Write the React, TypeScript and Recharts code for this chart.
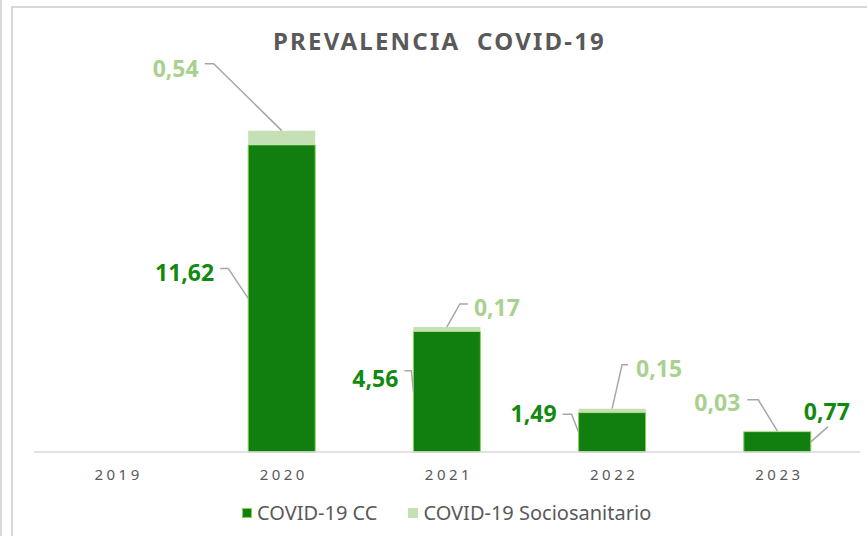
import React from 'react';
import { BarChart, Bar, XAxis, YAxis, LabelList } from 'recharts';

const years = ['2019', '2020', '2021', '2022', '2023'];
const ccValues = [null, 11.62, 4.56, 1.49, 0.77];
const socioValues = [null, 0.54, 0.17, 0.15, 0.03];

const chartData = years.map((year, i) => ({
  year,
  cc: ccValues[i],
  socio: socioValues[i],
}));

const DARK = '#107f10';
const DARK_TEXT = '#128a12';
const LIGHT = '#c5e0b4';
const LIGHT_TEXT = '#a9d18e';
const LEADER = '#a6a6a6';
const GREY_TEXT = '#595959';
const FONT = '"Noto Sans", "Open Sans", sans-serif';

// leader line layout per bar: anchor on the bar, elbow, line end, text anchor
type Callout = { side: 'left' | 'right' | 'top'; elbow: [number, number]; end: [number, number]; text: [number, number]; align: 'start' | 'end' };

const ccCallouts: (Callout | null)[] = [
  null,
  { side: 'left', elbow: [-20, -30], end: [-28, -30], text: [-34, -26], align: 'end' },
  { side: 'left', elbow: [-2, -21], end: [-9, -21], text: [-15, -14], align: 'end' },
  { side: 'left', elbow: [-7, -18], end: [-16, -18], text: [-22, -19], align: 'end' },
  { side: 'right', elbow: [17, -15], end: [17, -15], text: [-7, -31], align: 'start' },
];

const socioCallouts: (Callout | null)[] = [
  null,
  { side: 'top', elbow: [-68, -67], end: [-77, -67], text: [-83, -63], align: 'end' },
  { side: 'top', elbow: [13, -23], end: [21, -23], text: [27, -20], align: 'start' },
  { side: 'top', elbow: [10, -44], end: [16, -44], text: [24, -41], align: 'start' },
  { side: 'top', elbow: [-19, -31], end: [-30, -31], text: [-37, -29], align: 'end' },
];

const fmt = (v: number) => v.toFixed(2).replace('.', ',');

const makeLabel = (values: (number | null)[], callouts: (Callout | null)[], color: string) => (props: any) => {
  const { x, y, width, height, value } = props;
  if (value == null) return null;
  const c = callouts[values.indexOf(Number(value))];
  if (!c) return null;
  const bx = Number(x);
  const by = Number(y);
  const bw = Number(width);
  const bh = Number(height);
  let ax = bx + bw / 2;
  let ay = by;
  if (c.side === 'left') {
    ax = bx;
    ay = by + bh / 2;
  } else if (c.side === 'right') {
    ax = bx + bw;
    ay = by + bh / 2;
  }
  const pts = `${ax},${ay} ${ax + c.elbow[0]},${ay + c.elbow[1]} ${ax + c.end[0]},${ay + c.end[1]}`;
  return (
    <g>
      <polyline points={pts} fill="none" stroke={LEADER} strokeWidth={1.5} />
      <text
        x={ax + c.text[0]}
        y={ay + c.text[1]}
        textAnchor={c.align}
        dominantBaseline="central"
        fill={color}
        fontFamily={FONT}
        fontWeight={700}
        fontSize={23}
      >
        {fmt(Number(value))}
      </text>
    </g>
  );
};

const YearTick = (props: any) => {
  const { x, y, payload } = props;
  return (
    <text
      x={x + 2}
      y={y + 20}
      textAnchor="middle"
      fill={GREY_TEXT}
      fontFamily={FONT}
      fontSize={15}
      letterSpacing={3.5}
    >
      {payload.value}
    </text>
  );
};

const App: React.FC = () => {
  return (
    <div style={{ position: 'absolute', left: 0, top: 0, width: 867, height: 536, background: '#fff', overflow: 'hidden' }}>
      <div style={{ position: 'absolute', left: 0, top: 0, width: 2, height: 536, background: '#d9d9d9' }} />
      <div style={{ position: 'absolute', left: 11, top: 6, width: 870, height: 560, border: '2px solid #d9d9d9', boxSizing: 'border-box' }} />
      <div
        style={{
          position: 'absolute',
          left: 0,
          width: 867,
          top: 24,
          textAlign: 'center',
          paddingLeft: 6,
          fontFamily: FONT,
          fontWeight: 700,
          fontSize: 24,
          letterSpacing: 2.2,
          color: GREY_TEXT,
          whiteSpace: 'pre',
        }}
      >
        {'PREVALENCIA  COVID-19'}
      </div>
      <div style={{ position: 'absolute', left: 0, top: 0 }}>
        <BarChart width={867} height={536} data={chartData} margin={{ top: 82, right: 7, bottom: 54, left: 34 }} barSize={67}>
          <XAxis
            dataKey="year"
            axisLine={{ stroke: '#d9d9d9', strokeWidth: 1.5 }}
            tickLine={false}
            height={30}
            tick={<YearTick />}
          />
          <YAxis hide domain={[0, 14]} />
          <Bar dataKey="cc" stackId="a" fill={DARK} stroke="#8fcf5c" strokeWidth={1} isAnimationActive={false}>
            <LabelList dataKey="cc" content={makeLabel(ccValues, ccCallouts, DARK_TEXT)} />
          </Bar>
          <Bar dataKey="socio" stackId="a" fill={LIGHT} isAnimationActive={false}>
            <LabelList dataKey="socio" content={makeLabel(socioValues, socioCallouts, LIGHT_TEXT)} />
          </Bar>
        </BarChart>
      </div>
      <div
        style={{
          position: 'absolute',
          top: 499,
          left: 242,
          display: 'flex',
          alignItems: 'center',
          fontFamily: FONT,
          fontSize: 20,
          color: GREY_TEXT,
          whiteSpace: 'nowrap',
        }}
      >
        <span style={{ width: 10, height: 10, background: DARK, border: '1.5px solid #8fcf5c', boxSizing: 'border-box', marginRight: 5 }} />
        <span>COVID-19 CC</span>
        <span style={{ width: 10, height: 10, background: LIGHT, marginLeft: 31, marginRight: 5 }} />
        <span>COVID-19 Sociosanitario</span>
      </div>
    </div>
  );
};

export default App;
